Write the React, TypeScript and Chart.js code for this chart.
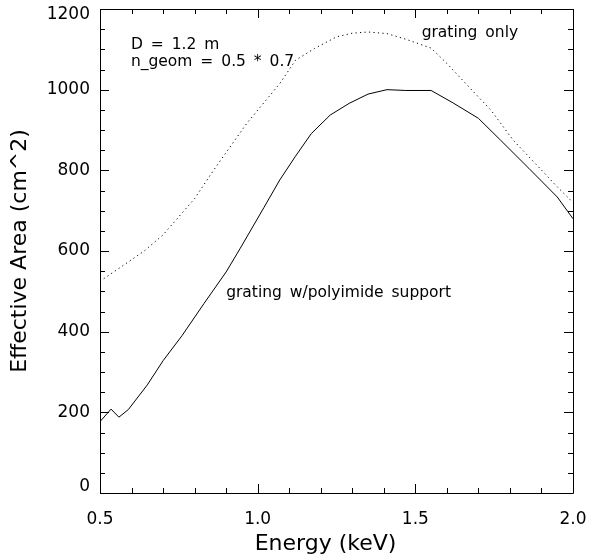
import React, { useEffect, useRef } from "react";
import { Chart, registerables } from "chart.js";

Chart.register(...registerables);

// ---- data ----
const supportEnergy = [0.5, 0.535, 0.56, 0.59, 0.65, 0.7, 0.76, 0.83, 0.9, 0.945, 1.02, 1.07, 1.12, 1.17, 1.23, 1.29, 1.35, 1.41, 1.47, 1.55, 1.62, 1.7, 1.77, 1.86, 1.95, 2.0];
const supportArea = [177, 208, 188, 207, 268, 328, 390, 470, 548, 607, 708, 776, 835, 891, 937, 966, 989, 1000, 998, 998, 967, 929, 875, 805, 734, 680];

const gratingEnergy = [0.5, 0.59, 0.64, 0.7, 0.75, 0.8, 0.86, 0.965, 1.07, 1.12, 1.18, 1.25, 1.3, 1.35, 1.41, 1.47, 1.55, 1.6, 1.66, 1.74, 1.81, 1.89, 1.95, 2.0];
const gratingArea = [525, 573, 600, 640, 685, 730, 800, 916, 1015, 1073, 1102, 1131, 1140, 1143, 1139, 1125, 1103, 1065, 1015, 949, 875, 809, 759, 720];

const xMajorTicks = [0.5, 1.0, 1.5, 2.0];
const xMinorTicks = [0.6, 0.7, 0.8, 0.9, 1.1, 1.2, 1.3, 1.4, 1.6, 1.7, 1.8, 1.9];
const yMajorTicks = [0, 200, 400, 600, 800, 1000, 1200];
const yMinorTicks = [50, 100, 150, 250, 300, 350, 450, 500, 550, 650, 700, 750, 850, 900, 950, 1050, 1100, 1150];

const xTitle = "Energy (keV)";
const yTitle = "Effective Area (cm^2)";

const annotations = [
  { text: "D = 1.2 m", x: 0.598, y: 1110 },
  { text: "n_geom = 0.5 * 0.7", x: 0.598, y: 1068 },
  { text: "grating only", x: 1.52, y: 1140 },
  { text: "grating w/polyimide support", x: 0.9, y: 495 },
];

const FONT = "'DejaVu Sans', 'Liberation Sans', sans-serif";
const INK = "#000";

const framePlugin = {
  id: "idlFrame",
  afterDatasetsDraw(chart: any) {
    const { ctx, chartArea, scales } = chart;
    const xs = scales.x;
    const ys = scales.y;
    const { left, right, top, bottom } = chartArea;
    ctx.save();
    ctx.strokeStyle = INK;
    ctx.lineWidth = 1;
    ctx.beginPath();
    ctx.rect(Math.round(left) + 0.5, Math.round(top) + 0.5, Math.round(right - left), Math.round(bottom - top));
    ctx.stroke();
    const MAJ = 9;
    const MIN = 5;
    ctx.beginPath();
    const xt = (v: number, len: number) => {
      const p = Math.round(xs.getPixelForValue(v)) + 0.5;
      ctx.moveTo(p, bottom);
      ctx.lineTo(p, bottom - len);
      ctx.moveTo(p, top);
      ctx.lineTo(p, top + len);
    };
    const yt = (v: number, len: number) => {
      const p = Math.round(ys.getPixelForValue(v)) + 0.5;
      ctx.moveTo(left, p);
      ctx.lineTo(left + len, p);
      ctx.moveTo(right, p);
      ctx.lineTo(right - len, p);
    };
    xMajorTicks.forEach((v) => xt(v, MAJ));
    xMinorTicks.forEach((v) => xt(v, MIN));
    yMajorTicks.forEach((v) => yt(v, MAJ));
    yMinorTicks.forEach((v) => yt(v, MIN));
    ctx.stroke();

    ctx.fillStyle = INK;
    // y tick labels (end labels nudged inside, as the reference does)
    ctx.font = `17px ${FONT}`;
    ctx.textAlign = "right";
    ctx.textBaseline = "middle";
    yMajorTicks.forEach((v, i) => {
      let p = ys.getPixelForValue(v);
      if (i === 0) p -= 6;
      if (i === yMajorTicks.length - 1) p += 6;
      ctx.fillText(String(v), left - 10, p);
    });

    // axis titles
    ctx.font = `22px ${FONT}`;
    ctx.textAlign = "center";
    ctx.fillText(xTitle, (left + right) / 2 - 11, 544);
    ctx.save();
    ctx.translate(20, (top + bottom) / 2);
    ctx.rotate(-Math.PI / 2);
    ctx.fillText(yTitle, 0, 0);
    ctx.restore();

    // annotations
    ctx.font = `15.5px ${FONT}`;
    try {
      (ctx as any).wordSpacing = "3px";
    } catch (e) {}
    ctx.textAlign = "left";
    annotations.forEach((a) => {
      ctx.fillText(a.text, xs.getPixelForValue(a.x), ys.getPixelForValue(a.y));
    });
    ctx.restore();
  },
};

export default function App() {
  const ref = useRef<HTMLCanvasElement | null>(null);

  useEffect(() => {
    document.body.style.margin = "0";
    const canvas = ref.current;
    if (!canvas) return;
    const chart = new Chart(canvas, {
      type: "line",
      data: {
        datasets: [
          {
            label: "grating only",
            data: gratingEnergy.map((x, i) => ({ x, y: gratingArea[i] })),
            borderColor: INK,
            borderWidth: 1,
            borderDash: [1.2, 3.3],
            pointRadius: 0,
            fill: false,
            tension: 0,
          },
          {
            label: "grating w/polyimide support",
            data: supportEnergy.map((x, i) => ({ x, y: supportArea[i] })),
            borderColor: INK,
            borderWidth: 1,
            pointRadius: 0,
            fill: false,
            tension: 0,
          },
        ],
      },
      options: {
        responsive: false,
        animation: false,
        events: [],
        layout: { padding: { top: 9, right: 16, left: 0, bottom: 0 } },
        plugins: { legend: { display: false }, tooltip: { enabled: false }, title: { display: false } },
        scales: {
          x: {
            type: "linear",
            min: 0.5,
            max: 2.0,
            afterBuildTicks: (s: any) => {
              s.ticks = xMajorTicks.map((v) => ({ value: v }));
            },
            afterFit: (s: any) => {
              s.height = 64;
              s.paddingLeft = 0;
              s.paddingRight = 0;
            },
            grid: { display: false },
            border: { display: false },
            ticks: {
              callback: (v: any) => Number(v).toFixed(1),
              font: { family: FONT, size: 17, lineHeight: 1 },
              color: INK,
              padding: 10,
              maxRotation: 0,
              autoSkip: false,
            },
            title: { display: false },
          },
          y: {
            type: "linear",
            min: 0,
            max: 1200,
            afterBuildTicks: (s: any) => {
              s.ticks = yMajorTicks.map((v) => ({ value: v }));
            },
            afterFit: (s: any) => {
              s.width = 100;
              s.paddingTop = 0;
              s.paddingBottom = 0;
            },
            grid: { display: false },
            border: { display: false },
            ticks: { display: false },
            title: { display: false },
          },
        },
      },
      plugins: [framePlugin],
    } as any);
    return () => chart.destroy();
  }, []);

  return <canvas ref={ref} width={589} height={557} style={{ display: "block" }} />;
}
